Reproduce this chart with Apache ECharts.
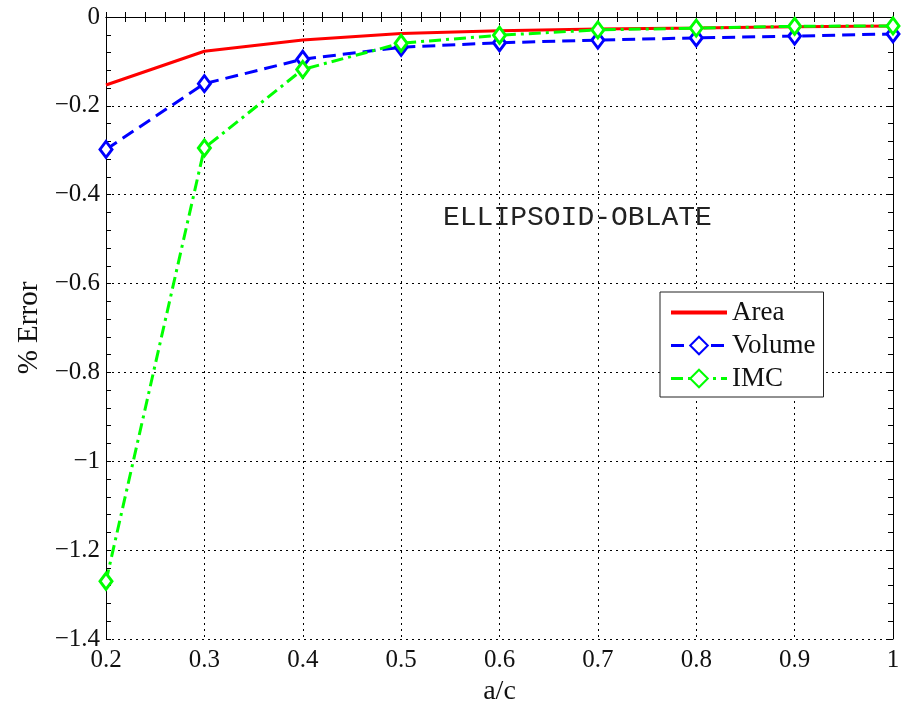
<!DOCTYPE html>
<html>
<head>
<meta charset="utf-8">
<style>
  html, body { margin: 0; padding: 0; background: #fff; }
  #chart { width: 910px; height: 704px; }
</style>
<script src="https://cdn.jsdelivr.net/npm/echarts@6/dist/echarts.min.js"></script>
</head>
<body>
<div id="chart"></div>
<script>
// Axial ratio a/c of the oblate ellipsoid
const ratios = [0.2, 0.3, 0.4, 0.5, 0.6, 0.7, 0.8, 0.9, 1.0];

// Percentage error of each quantity
const areaError   = [-0.153, -0.077, -0.052, -0.037, -0.031, -0.027, -0.025, -0.022, -0.020];
const volumeError = [-0.298, -0.150, -0.095, -0.068, -0.058, -0.052, -0.047, -0.043, -0.038];
const imcError    = [-1.270, -0.295, -0.118, -0.059, -0.041, -0.029, -0.025, -0.021, -0.020];

const seriesNames = ['Area', 'Volume', 'IMC'];
const annotation = 'ELLIPSOID-OBLATE';
const xAxisTitle = 'a/c';
const yAxisTitle = '% Error';

const SERIF = "'Liberation Serif', 'DejaVu Serif', serif";

function pairs(values) {
  return ratios.map((r, i) => [r, values[i]]);
}

function fmtX(v) {
  const r = Math.round(v * 10) / 10;
  return r === 1 ? '1' : r.toFixed(1);
}
function fmtY(v) {
  const r = Math.round(v * 10) / 10;
  if (r === 0) return '0';
  const s = Math.abs(r).toFixed(1).replace(/\.0$/, '');
  return (r < 0 ? '\u2212' : '') + s;
}

const axisBase = {
  type: 'value',
  axisLine: { show: true, lineStyle: { color: '#000', width: 1 } },
  axisTick: { show: true, inside: true, length: 5, lineStyle: { color: '#000' } },
  minorTick: { show: true, splitNumber: 5, length: 5, lineStyle: { color: '#000' } },
  minorSplitLine: { show: false }
};

const chart = echarts.init(document.getElementById('chart'));
chart.setOption({
  animation: false,
  backgroundColor: '#fff',
  grid: { left: 106, top: 17, right: 17, bottom: 65, containLabel: false, outerBoundsMode: 'none' },
  xAxis: [
    Object.assign({}, axisBase, {
      min: 0.2, max: 1, interval: 0.1, position: 'bottom',
      name: xAxisTitle, nameLocation: 'middle', nameGap: 38,
      nameTextStyle: { fontFamily: SERIF, fontSize: 28, color: '#111' },
      axisLabel: { formatter: fmtX, margin: 9, fontFamily: SERIF, fontSize: 25, color: '#111' },
      splitLine: { show: true, lineStyle: { color: '#000', type: [2, 4], width: 1 } }
    }),
    Object.assign({}, axisBase, {
      min: 0.2, max: 1, interval: 0.1, position: 'top',
      axisLabel: { show: false }, splitLine: { show: false }
    })
  ],
  yAxis: [
    Object.assign({}, axisBase, {
      min: -1.4, max: 0, interval: 0.2, position: 'left',
      name: yAxisTitle, nameLocation: 'middle', nameGap: 62, nameRotate: 90,
      nameTextStyle: { fontFamily: SERIF, fontSize: 29, color: '#111' },
      axisLabel: { formatter: fmtY, margin: 6, fontFamily: SERIF, fontSize: 25, color: '#111' },
      splitLine: { show: true, lineStyle: { color: '#000', type: [2, 4], width: 1 } }
    }),
    Object.assign({}, axisBase, {
      min: -1.4, max: 0, interval: 0.2, position: 'right',
      axisLabel: { show: false }, splitLine: { show: false }
    })
  ],
  legend: {
    orient: 'vertical',
    left: 660, top: 292,
    data: [
      { name: seriesNames[0], itemStyle: { opacity: 0 }, lineStyle: { width: 4 } },
      { name: seriesNames[1], lineStyle: { width: 3 } },
      { name: seriesNames[2], lineStyle: { width: 3 } }
    ],
    backgroundColor: '#fff',
    borderColor: '#222', borderWidth: 1,
    padding: [7, 8, 5, 9],
    itemWidth: 56, itemHeight: 22, itemGap: 6,
    textStyle: { fontFamily: SERIF, fontSize: 27, color: '#111', lineHeight: 25 }
  },
  graphic: [{
    type: 'text',
    left: 443, top: 204,
    style: {
      text: annotation,
      font: "28px 'Liberation Mono', 'DejaVu Sans Mono', monospace",
      fill: '#222'
    },
    z: 10
  }],
  series: [
    {
      name: seriesNames[0], type: 'line', data: pairs(areaError),
      showSymbol: false, symbol: 'none',
      lineStyle: { color: '#ff0000', width: 3 },
      itemStyle: { color: '#ff0000' },
      z: 3
    },
    {
      name: seriesNames[1], type: 'line', data: pairs(volumeError),
      symbol: 'diamond', symbolSize: [12, 16],
      lineStyle: { color: '#0000ff', width: 3, type: [13, 7] },
      itemStyle: { color: '#ffffff', borderColor: '#0000ff', borderWidth: 3 },
      z: 4
    },
    {
      name: seriesNames[2], type: 'line', data: pairs(imcError),
      symbol: 'diamond', symbolSize: [12, 16],
      lineStyle: { color: '#00ff00', width: 3, type: [12, 5, 3, 5] },
      itemStyle: { color: '#ffffff', borderColor: '#00ff00', borderWidth: 3 },
      z: 5
    }
  ]
});
</script>
</body>
</html>
